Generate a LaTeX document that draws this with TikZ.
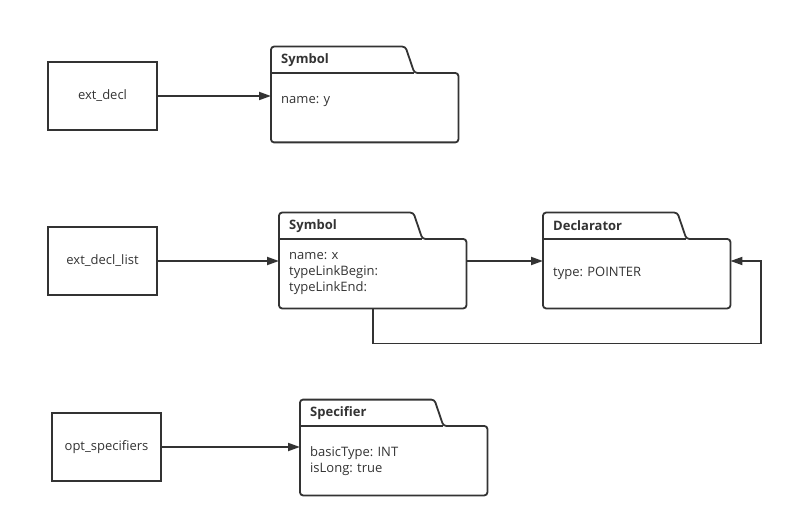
\documentclass[tikz,border=0pt]{standalone}
\usepackage{fontspec}
\setmainfont{Open Sans}
\usepackage{tikz}
\usetikzlibrary{arrows.meta, positioning, calc}
\definecolor{ink}{HTML}{333333}
\frenchspacing
% outline of a package: body node #1, tab node #2
\newcommand{\pkgframe}[2]{%
  \draw[frame, rounded corners=3pt] (#1.west) -- (#2.north west) -- (#2.north east)
    -- ($(#2.south east)+(9,0)$) -- (#1.north east) -- (#1.south east)
    -- (#1.south west) -- cycle;
  \draw[frame] (#1.north west) -- ($(#2.south east)+(9,0)$);}

\begin{document}
\begin{tikzpicture}[
    x=1pt, y=-1pt,
    every node/.style={text=ink, font=\fontsize{13}{16}\selectfont},
    frame/.style={draw=ink, line width=1.8pt},
    block/.style={frame, minimum width=109pt, minimum height=68pt, align=center},
    pkg/.style={anchor=north west, text width=167pt, inner xsep=10pt, minimum height=69pt, align=left},
    tab/.style={anchor=south west, text width=114pt, inner xsep=10pt, minimum height=26pt, align=left,
        font=\fontsize{13}{16}\selectfont\bfseries},
    arrow/.style={draw=ink, line width=1.8pt, -{Triangle[length=12pt, width=8pt]}}
]
    \useasboundingbox (0,0) rectangle (791,526);

    % ext_decl
    \node[block] (ext) at (102.5,96) {ext\_decl};
    \node[pkg] (sym1) at (271,73) {name: y\\\mbox{}};
    \node[tab] (sym1t) at (sym1.north west) {Symbol};
    \pkgframe{sym1}{sym1t}

    % ext_decl_list
    \node[block] (extlist) at (102.5,261) {ext\_decl\_list};
    \node[pkg] (sym2) at (279,239) {name: x\\typeLinkBegin:\\typeLinkEnd:};
    \node[tab] (sym2t) at (sym2.north west) {Symbol};
    \pkgframe{sym2}{sym2t}
    \node[pkg] (decl) at (543,239) {type: POINTER};
    \node[tab] (declt) at (decl.north west) {Declarator};
    \pkgframe{decl}{declt}
    \coordinate (back) at (761,261);

    % opt_specifiers
    \node[block] (opt) at (106.5,447) {opt\_specifiers};
    \node[pkg] (spec) at (300,426) {basicType: INT\\isLong: true};
    \node[tab] (spect) at (spec.north west) {Specifier};
    \pkgframe{spec}{spect}

    % Arrows
    \draw[arrow] (ext) -- (ext -| sym1.west);
    \draw[arrow] (extlist) -- (extlist -| sym2.west);
    \draw[arrow] (extlist -| sym2.east) -- (extlist -| decl.west);
    \draw[arrow] (sym2.south) -- ++(0,35) -| (back) -- (back -| decl.east);
    \draw[arrow] (opt) -- (opt -| spec.west);

\end{tikzpicture}
\end{document}
